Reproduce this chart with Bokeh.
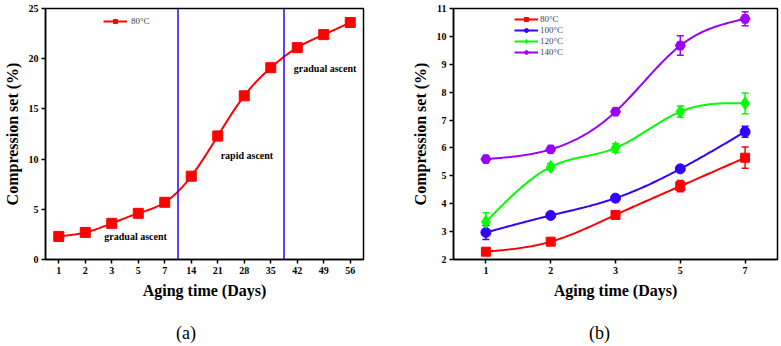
import numpy as np
from bokeh.plotting import figure
from bokeh.layouts import row, column
from bokeh.models import (ColumnDataSource, Whisker, TeeHead, Span, Legend, LegendItem,
                          FixedTicker, Div)
from bokeh.core.properties import value
from bokeh.embed import file_html
from bokeh.resources import INLINE

# ---- panel (a): 80 °C over 56 days ----
days_a = ["1", "2", "3", "5", "7", "14", "21", "28", "35", "42", "49", "56"]
cs_a = [2.3, 2.7, 3.6, 4.6, 5.7, 8.3, 12.3, 16.3, 19.1, 21.1, 22.4, 23.6]
err_a = [0.15, 0.15, 0.15, 0.15, 0.3, 0.3, 0.45, 0.2, 0.2, 0.15, 0.15, 0.15]
phase_ends = ["7", "35"]  # last day of each stage before the next begins

# ---- panel (b): four temperatures over 7 days ----
days_b = ["1", "2", "3", "5", "7"]
temps_b = ["80°C", "100°C", "120°C", "140°C"]
cs_80 = [2.28, 2.64, 3.6, 4.63, 5.65]
cs_100 = [2.97, 3.58, 4.2, 5.25, 6.58]
cs_120 = [3.35, 5.32, 6.0, 7.3, 7.6]
cs_140 = [5.6, 5.95, 7.3, 9.67, 10.63]
err_80 = [0.12, 0.05, 0.05, 0.2, 0.38]
err_100 = [0.25, 0.05, 0.12, 0.07, 0.2]
err_120 = [0.33, 0.12, 0.15, 0.2, 0.37]
err_140 = [0.05, 0.05, 0.05, 0.35, 0.25]

SERIF = "Liberation Serif"
RED, BLUE, GREEN, PURPLE = "#FF0000", "#3300FF", "#00FF00", "#9900FF"


def natural_spline(x, y, n=40):
    """Smooth curve through the points (natural cubic spline)."""
    x = np.asarray(x, float)
    y = np.asarray(y, float)
    k = len(x)
    h = np.diff(x)
    A = np.zeros((k, k))
    r = np.zeros(k)
    A[0, 0] = A[-1, -1] = 1.0
    for i in range(1, k - 1):
        A[i, i - 1] = h[i - 1]
        A[i, i] = 2 * (h[i - 1] + h[i])
        A[i, i + 1] = h[i]
        r[i] = 6 * ((y[i + 1] - y[i]) / h[i] - (y[i] - y[i - 1]) / h[i - 1])
    m = np.linalg.solve(A, r)
    xs, ys = [], []
    for i in range(k - 1):
        t = np.linspace(x[i], x[i + 1], n, endpoint=(i == k - 2))
        a = (x[i + 1] - t) / h[i]
        b = (t - x[i]) / h[i]
        yy = a * y[i] + b * y[i + 1] + ((a ** 3 - a) * m[i] + (b ** 3 - b) * m[i + 1]) * h[i] ** 2 / 6
        xs.extend(t)
        ys.extend(yy)
    return xs, ys


def style(p, labels, yticks):
    p.outline_line_color = "black"
    p.outline_line_width = 1.5
    p.xgrid.visible = False
    p.ygrid.visible = False
    for ax in (p.xaxis[0], p.yaxis[0]):
        ax.axis_line_width = 1.5
        ax.major_tick_line_width = 1.5
        ax.major_tick_in = 0
        ax.major_tick_out = 4
        ax.minor_tick_line_color = None
        ax.major_label_text_font = SERIF
        ax.major_label_text_font_style = "bold"
        ax.major_label_text_font_size = "10px"
        ax.major_label_text_color = "black"
        ax.axis_label_text_font = SERIF
        ax.axis_label_text_font_style = "bold"
        ax.axis_label_text_font_size = "16px"
        ax.axis_label_text_color = "black"
        ax.major_label_standoff = 3
        ax.axis_label_standoff = 5
    p.xaxis.ticker = FixedTicker(ticks=list(range(len(labels))))
    p.xaxis.major_label_overrides = {i: s for i, s in enumerate(labels)}
    p.yaxis.ticker = FixedTicker(ticks=yticks)
    p.xaxis.axis_label = "Aging time (Days)"
    p.yaxis.axis_label = "Compression set (%)"


def series(p, x, y, e, color, marker, size):
    sx, sy = natural_spline(x, y)
    ln = p.line(sx, sy, line_color=color, line_width=2)
    src = ColumnDataSource(dict(x=x, y=y, lo=[a - b for a, b in zip(y, e)],
                                hi=[a + b for a, b in zip(y, e)]))
    p.add_layout(Whisker(base="x", lower="lo", upper="hi", source=src,
                         line_color=color, line_width=1.5,
                         upper_head=TeeHead(size=7, line_color=color, line_width=1.5),
                         lower_head=TeeHead(size=7, line_color=color, line_width=1.5)))
    sc = p.scatter("x", "y", source=src, marker=marker, size=size,
                   fill_color=color, line_color=color)
    return [ln, sc]


def panel_tag(text, width, left):
    # sub-figure letter placed under each chart
    return Div(text=text, width=width, height=26,
               styles={"font-family": SERIF, "font-size": "18px", "line-height": "18px",
                       "color": "black", "padding-top": "1px", "padding-left": f"{left}px",
                       "box-sizing": "border-box"})


# ---------------- panel (a) ----------------
pa = figure(width=390, height=318, output_backend="svg", toolbar_location=None,
            x_range=(-0.5, len(days_a) - 0.5), y_range=(0, 25),
            min_border_left=40, min_border_right=27, min_border_top=8, min_border_bottom=59)
style(pa, days_a, [0, 5, 10, 15, 20, 25])
xa = list(range(len(days_a)))
for d in phase_ends:
    pa.add_layout(Span(location=days_a.index(d) + 0.5, dimension="height",
                       line_color=BLUE, line_width=1.5))
ra = series(pa, xa, cs_a, err_a, RED, "square", 10)
pa.text(x=[2.9, 7.1, 10.05], y=[2.3, 10.4, 19.0],
        text=["gradual ascent", "rapid ascent", "gradual ascent"],
        text_font=value(SERIF), text_font_style="bold", text_font_size="10px",
        text_align="center", text_baseline="middle", text_color="black")
lega = Legend(items=[LegendItem(label="80°C", renderers=ra)],
              location=(58, 233), border_line_color=None, background_fill_alpha=0,
              label_text_font=SERIF, label_text_font_size="9px",
              glyph_width=24, glyph_height=10, label_height=10, padding=2, spacing=0,
              margin=0, label_standoff=4)
pa.add_layout(lega, "center")

# ---------------- panel (b) ----------------
pb = figure(width=391, height=318, output_backend="svg", toolbar_location=None,
            x_range=(-0.5, len(days_b) - 0.5), y_range=(2, 11),
            min_border_left=63, min_border_right=4, min_border_top=8, min_border_bottom=59)
style(pb, days_b, list(range(2, 12)))
xb = list(range(len(days_b)))
rb = [
    series(pb, xb, cs_80, err_80, RED, "square", 9),
    series(pb, xb, cs_100, err_100, BLUE, "circle", 10),
    series(pb, xb, cs_120, err_120, GREEN, "diamond", 13),
    series(pb, xb, cs_140, err_140, PURPLE, "hex", 10),
]
legb = Legend(items=[LegendItem(label=t, renderers=r) for t, r in zip(temps_b, rb)],
              location=(61, 202), border_line_color=None, background_fill_alpha=0,
              label_text_font=SERIF, label_text_font_size="9px",
              glyph_width=24, glyph_height=10, label_height=10, padding=2, spacing=1,
              margin=0, label_standoff=2)
pb.add_layout(legb, "center")

layout = column(row(pa, pb),
                row(panel_tag("(a)", 390, 171), panel_tag("(b)", 391, 184)))
open("out.html", "w").write(file_html(layout, INLINE))
